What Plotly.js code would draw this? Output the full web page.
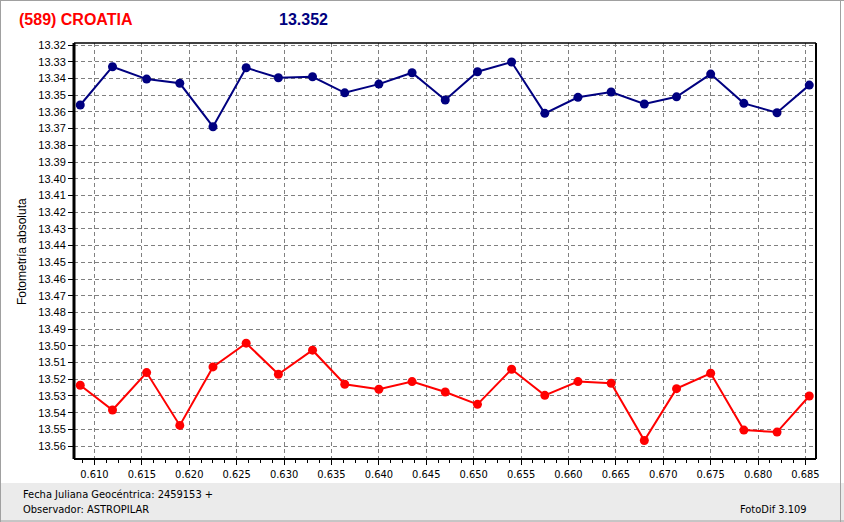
<!DOCTYPE html>
<html>
<head>
<meta charset="utf-8">
<script src="https://cdn.plot.ly/plotly-3.0.1.min.js"></script>
<style>
html,body{margin:0;padding:0;background:#fff;}
#chart{width:844px;height:522px;}
</style>
</head>
<body>
<div id="chart"></div>
<script>
// ---- data ----
const jd = [0.6085, 0.6119, 0.6155, 0.6190, 0.6225, 0.6260, 0.6294, 0.6330, 0.6364, 0.6400, 0.6435, 0.6470,
            0.6504, 0.6540, 0.6575, 0.6610, 0.6645, 0.6680, 0.6714, 0.6750, 0.6785, 0.6820, 0.6854];
const magBlue = [13.3559, 13.3330, 13.3404, 13.3429, 13.3689, 13.3336, 13.3396, 13.3390, 13.3486, 13.3434, 13.3366, 13.3529,
                 13.3360, 13.3302, 13.3609, 13.3513, 13.3481, 13.3553, 13.3510, 13.3374, 13.3549, 13.3605, 13.3440];
const magRed = [13.5236, 13.5384, 13.5160, 13.5476, 13.5126, 13.4984, 13.5170, 13.5026, 13.5230, 13.5260, 13.5214, 13.5276,
                13.5350, 13.5140, 13.5296, 13.5214, 13.5224, 13.5566, 13.5256, 13.5164, 13.5504, 13.5516, 13.5300];
const titleText = "(589) CROATIA";
const meanText = "13.352";
const yTitle = "Fotometría absoluta";
const footer1 = "Fecha Juliana Geocéntrica: 2459153 +";
const footer2 = "Observador: ASTROPILAR";
const footer3 = "FotoDif 3.109";

// ---- layout helpers (pixel -> paper) ----
const L = 74, R = 816, T = 43, B = 459;
const px = v => (v - L) / (R - L);
const py = v => (B - v) / (B - T);

const traces = [
  {x: jd, y: magBlue, mode: 'lines+markers', type: 'scatter',
   line: {color: '#000080', width: 2}, marker: {color: '#000080', size: 9, symbol: 'circle'}, hoverinfo: 'x+y'},
  {x: jd, y: magRed, mode: 'lines+markers', type: 'scatter',
   line: {color: '#FF0000', width: 2}, marker: {color: '#FF0000', size: 9, symbol: 'circle'}, hoverinfo: 'x+y'}
];

const condFont = "DejaVu Sans Condensed, DejaVu Sans, sans-serif";

const layout = {
  width: 844, height: 522,
  margin: {l: L, r: 844 - R, t: T, b: 522 - B, pad: 0},
  paper_bgcolor: '#ffffff', plot_bgcolor: '#ffffff',
  showlegend: false,
  xaxis: {
    range: [0.60784, 0.68611],
    dtick: 0.005, tick0: 0.61, tickformat: '.3f',
    showgrid: true, gridcolor: '#808080', gridwidth: 1, griddash: '4px,3px',
    zeroline: false, showline: false,
    ticks: 'outside', ticklen: 5, tickwidth: 1, tickcolor: '#000',
    minor: {dtick: 0.00125, tick0: 0.61, ticks: 'outside', ticklen: 3, tickcolor: '#000', showgrid: false, gridcolor: 'rgba(0,0,0,0)'},
    tickfont: {family: condFont, size: 11, color: '#000'},
    fixedrange: true
  },
  yaxis: {
    range: [13.5677, 13.3188],
    dtick: 0.01, tick0: 13.32, tickformat: '.2f',
    showgrid: true, gridcolor: '#808080', gridwidth: 1, griddash: '4px,3px',
    zeroline: false, showline: false,
    ticks: 'outside', ticklen: 5, tickwidth: 1, tickcolor: '#000',
    tickfont: {family: 'Liberation Sans, Arial, sans-serif', size: 11, color: '#000'},
    fixedrange: true
  },
  shapes: [
    {type: 'rect', xref: 'paper', yref: 'paper', x0: px(0), x1: px(844), y0: py(483), y1: py(522),
     fillcolor: '#EBEBEB', line: {width: 0}, layer: 'below'},
    {type: 'line', xref: 'paper', yref: 'paper', x0: px(0), x1: px(844), y0: py(0.5), y1: py(0.5), line: {color: '#A0A0A0', width: 1}},
    {type: 'line', xref: 'paper', yref: 'paper', x0: px(0.5), x1: px(0.5), y0: py(0), y1: py(522), line: {color: '#A0A0A0', width: 1}},
    {type: 'line', xref: 'paper', yref: 'paper', x0: px(840.5), x1: px(840.5), y0: py(0), y1: py(522), line: {color: '#A0A0A0', width: 1}},
    {type: 'line', xref: 'paper', yref: 'paper', x0: px(0), x1: px(844), y0: py(521), y1: py(521), line: {color: '#A0A0A0', width: 1}},
    {type: 'line', xref: 'paper', yref: 'paper', x0: 0, x1: 1, y0: 1, y1: 1, line: {color: '#000', width: 1.5}},
    {type: 'line', xref: 'paper', yref: 'paper', x0: 1, x1: 1, y0: 0, y1: 1, line: {color: '#000', width: 2}},
    {type: 'line', xref: 'paper', yref: 'paper', x0: 0, x1: 1, y0: 0, y1: 0, line: {color: '#000', width: 2}},
    {type: 'line', xref: 'paper', yref: 'paper', x0: 0, x1: 0, y0: 0, y1: 1, line: {color: '#000', width: 3}}
  ],
  annotations: [
    {text: '<b>' + titleText + '</b>', xref: 'paper', yref: 'paper', x: px(17), y: py(19.5), xanchor: 'left', yanchor: 'middle',
     showarrow: false, font: {family: 'Liberation Sans, Arial, sans-serif', size: 16, color: '#FF0000'}},
    {text: '<b>' + meanText + '</b>', xref: 'paper', yref: 'paper', x: px(303.5), y: py(19.5), xanchor: 'center', yanchor: 'middle',
     showarrow: false, font: {family: 'Liberation Sans, Arial, sans-serif', size: 16, color: '#000080'}},
    {text: yTitle, xref: 'paper', yref: 'paper', x: px(21.5), y: py(251.5), xanchor: 'center', yanchor: 'middle', textangle: -90,
     showarrow: false, font: {family: 'Liberation Sans, Arial, sans-serif', size: 12, color: '#000'}},
    {text: footer1, xref: 'paper', yref: 'paper', x: px(21), y: py(494), xanchor: 'left', yanchor: 'middle',
     showarrow: false, font: {family: condFont, size: 11, color: '#000'}},
    {text: footer2, xref: 'paper', yref: 'paper', x: px(21), y: py(510), xanchor: 'left', yanchor: 'middle',
     showarrow: false, font: {family: condFont, size: 11, color: '#000'}},
    {text: footer3, xref: 'paper', yref: 'paper', x: px(809), y: py(510), xanchor: 'right', yanchor: 'middle',
     showarrow: false, font: {family: condFont, size: 11, color: '#000'}}
  ]
};

Plotly.newPlot('chart', traces, layout, {displayModeBar: false, staticPlot: true});
</script>
</body>
</html>
